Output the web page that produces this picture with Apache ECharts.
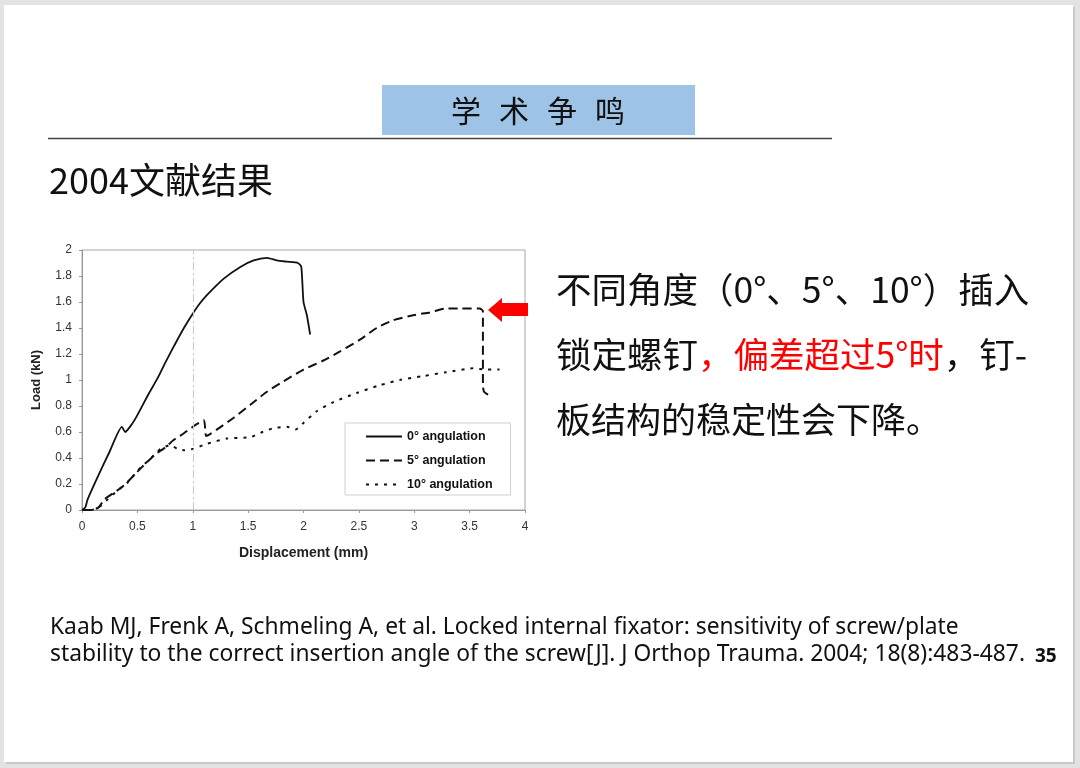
<!DOCTYPE html>
<html>
<head>
<meta charset="utf-8">
<script src="https://cdn.jsdelivr.net/npm/echarts@6/dist/echarts.min.js"></script>
<style>
html,body{margin:0;padding:0;background:#e3e3e3;}
#main{width:1080px;height:768px;}
</style>
</head>
<body>
<div id="main"></div>
<script>
// ---- data ----
var seriesNames = ['0° angulation', '5° angulation', '10° angulation'];
var xTicks = [0, 0.5, 1, 1.5, 2, 2.5, 3, 3.5, 4];
var yTicks = [0, 0.2, 0.4, 0.6, 0.8, 1, 1.2, 1.4, 1.6, 1.8, 2];

var disp0 = [0, 0.03, 0.05, 0.15, 0.25, 0.36, 0.39, 0.45, 0.5, 0.6, 0.68, 0.75, 0.83, 0.92, 1.0, 1.06, 1.13, 1.28, 1.43, 1.55, 1.67, 1.76, 1.85, 1.95, 1.98, 2.0, 2.03, 2.06];
var load0 = [0, 0.02, 0.08, 0.27, 0.45, 0.64, 0.60, 0.66, 0.73, 0.89, 1.01, 1.13, 1.26, 1.40, 1.51, 1.585, 1.655, 1.78, 1.87, 1.92, 1.94, 1.92, 1.91, 1.90, 1.87, 1.60, 1.50, 1.35];

var disp5 = [0, 0.08, 0.15, 0.2, 0.3, 0.38, 0.45, 0.53, 0.65, 0.75, 0.83, 0.92, 1.0, 1.1, 1.12, 1.15, 1.22, 1.37, 1.52, 1.67, 1.82, 2.0, 2.18, 2.33, 2.51, 2.66, 2.81, 3.0, 3.14, 3.29, 3.41, 3.59, 3.62, 3.62, 3.63, 3.68];
var load5 = [0, 0, 0.02, 0.08, 0.14, 0.19, 0.25, 0.32, 0.42, 0.48, 0.54, 0.59, 0.64, 0.69, 0.57, 0.58, 0.62, 0.71, 0.81, 0.91, 0.99, 1.08, 1.15, 1.22, 1.31, 1.40, 1.46, 1.50, 1.52, 1.55, 1.55, 1.55, 1.53, 0.96, 0.91, 0.88];

var disp10 = [0, 0.08, 0.15, 0.23, 0.32, 0.41, 0.5, 0.56, 0.65, 0.71, 0.8, 0.86, 0.92, 1.0, 1.13, 1.31, 1.52, 1.63, 1.73, 1.85, 1.93, 2.0, 2.12, 2.27, 2.48, 2.69, 2.87, 3.08, 3.29, 3.53, 3.65, 3.77];
var load10 = [0, 0, 0.02, 0.08, 0.15, 0.21, 0.30, 0.35, 0.42, 0.47, 0.50, 0.47, 0.46, 0.47, 0.51, 0.55, 0.56, 0.60, 0.63, 0.64, 0.62, 0.67, 0.76, 0.83, 0.90, 0.96, 1.00, 1.03, 1.06, 1.09, 1.08, 1.08];

function zip(xs, ys) { return xs.map(function (x, i) { return [x, ys[i]]; }); }

var CJK = '"Noto Sans CJK SC", "Noto Sans", sans-serif';
var ARIAL = '"Liberation Sans", Arial, sans-serif';
var LATIN = '"Noto Sans", sans-serif';

var chart = echarts.init(document.getElementById('main'));
var option = {
  backgroundColor: '#e3e3e3',
  animation: false,
  grid: { left: 82, top: 250, width: 443, height: 260, show: true, borderColor: '#a8a8a8', borderWidth: 1, backgroundColor: 'transparent' },
  xAxis: {
    type: 'value', min: 0, max: 4, interval: 0.5,
    name: 'Displacement (mm)', nameLocation: 'middle', nameGap: 36,
    nameTextStyle: { fontFamily: ARIAL, fontSize: 14, fontWeight: 'bold', color: '#222' },
    axisLine: { show: true, lineStyle: { color: '#999' } },
    axisTick: { show: true, length: 3, lineStyle: { color: '#999' } },
    splitLine: { show: false },
    axisLabel: { fontFamily: ARIAL, fontSize: 12, color: '#333', margin: 11, formatter: function (v) { return String(+v.toFixed(1)); } }
  },
  yAxis: {
    type: 'value', min: 0, max: 2, interval: 0.2,
    name: 'Load (kN)', nameLocation: 'middle', nameGap: 39,
    nameTextStyle: { fontFamily: ARIAL, fontSize: 13, fontWeight: 'bold', color: '#222' },
    axisLine: { show: true, lineStyle: { color: '#999' } },
    axisTick: { show: true, length: 3, lineStyle: { color: '#999' } },
    splitLine: { show: false },
    axisLabel: { fontFamily: ARIAL, fontSize: 12, color: '#333', margin: 10, formatter: function (v) { return String(+v.toFixed(1)); } }
  },
  legend: {
    orient: 'vertical', left: 345, top: 423,
    padding: [7, 18, 4, 20], itemGap: 11, itemWidth: 36, itemHeight: 14,
    backgroundColor: '#fff', borderColor: '#cfcfcf', borderWidth: 1,
    itemStyle: { opacity: 0 },
    textStyle: { fontFamily: ARIAL, fontSize: 12.5, fontWeight: 'bold', color: '#111' },
    data: seriesNames
  },
  series: [
    {
      name: seriesNames[0], type: 'line', data: zip(disp0, load0), symbol: 'none', smooth: 0.2,
      lineStyle: { color: '#111', width: 1.8, type: 'solid' }, itemStyle: { color: '#111' },
      markLine: {
        silent: true, symbol: 'none', label: { show: false },
        lineStyle: { color: '#c8c8c8', width: 1, type: [8, 3, 2, 3] },
        data: [{ xAxis: 1 }]
      }
    },
    {
      name: seriesNames[1], type: 'line', data: zip(disp5, load5), symbol: 'none', smooth: 0.2,
      lineStyle: { color: '#111', width: 2, type: [9, 5] }, itemStyle: { color: '#111' }
    },
    {
      name: seriesNames[2], type: 'line', data: zip(disp10, load10), symbol: 'none', smooth: 0.2,
      lineStyle: { color: '#111', width: 2, type: [3, 6] }, itemStyle: { color: '#111' }
    }
  ],
  graphic: [
    { type: 'rect', z: -100, shape: { x: 6, y: 7, width: 1069, height: 757 }, style: { fill: '#c9c9c9' } },
    { type: 'rect', z: -99, shape: { x: 4, y: 5, width: 1069, height: 757 }, style: { fill: '#ffffff' } },
    { type: 'rect', shape: { x: 382, y: 85, width: 313, height: 50 }, style: { fill: '#9dc3e6' } },
    { type: 'text', x: 466, y: 111, style: { text: '学', fontFamily: CJK, fontSize: 30, fill: '#111', align: 'center', verticalAlign: 'middle' } },
    { type: 'text', x: 514, y: 111, style: { text: '术', fontFamily: CJK, fontSize: 30, fill: '#111', align: 'center', verticalAlign: 'middle' } },
    { type: 'text', x: 562, y: 111, style: { text: '争', fontFamily: CJK, fontSize: 30, fill: '#111', align: 'center', verticalAlign: 'middle' } },
    { type: 'text', x: 610, y: 111, style: { text: '鸣', fontFamily: CJK, fontSize: 30, fill: '#111', align: 'center', verticalAlign: 'middle' } },
    { type: 'line', shape: { x1: 48, y1: 138.5, x2: 832, y2: 138.5 }, style: { stroke: '#444', lineWidth: 1.5 } },
    { type: 'text', x: 49, y: 180, style: { text: '2004文献结果', fontFamily: CJK, fontSize: 36, fill: '#111', verticalAlign: 'middle' } },
    { type: 'text', x: 556, y: 290, style: { text: '不同角度（0°、5°、10°）插入', fontFamily: CJK, fontSize: 35.5, fill: '#111', verticalAlign: 'middle' } },
    { type: 'text', x: 556, y: 355, style: {
        text: '{a|锁定螺钉}{b|，偏差超过5°时}{a|，钉-}', verticalAlign: 'middle',
        rich: {
          a: { fontFamily: CJK, fontSize: 35.5, fill: '#111', color: '#111' },
          b: { fontFamily: CJK, fontSize: 35.5, fill: '#ff0000', color: '#ff0000' }
        } } },
    { type: 'text', x: 556, y: 420, style: { text: '板结构的稳定性会下降。', fontFamily: CJK, fontSize: 35, fill: '#111', verticalAlign: 'middle' } },
    { type: 'polygon', shape: { points: [[488, 310], [502, 298], [502, 303], [528, 303], [528, 316], [502, 316], [502, 322]] }, style: { fill: '#ff0000' } },
    { type: 'text', x: 50, y: 628, style: { text: 'Kaab MJ, Frenk A, Schmeling A, et al. Locked internal fixator: sensitivity of screw/plate', fontFamily: LATIN, fontSize: 22.8, fill: '#111', verticalAlign: 'middle' } },
    { type: 'text', x: 50, y: 655, style: { text: 'stability to the correct insertion angle of the screw[J]. J Orthop Trauma. 2004; 18(8):483-487.', fontFamily: LATIN, fontSize: 22.8, fill: '#111', verticalAlign: 'middle' } },
    { type: 'text', x: 1035, y: 657, style: { text: '35', fontFamily: LATIN, fontSize: 19, fontWeight: 'bold', fill: '#111', verticalAlign: 'middle' } }
  ]
};
chart.setOption(option);
</script>
</body>
</html>
